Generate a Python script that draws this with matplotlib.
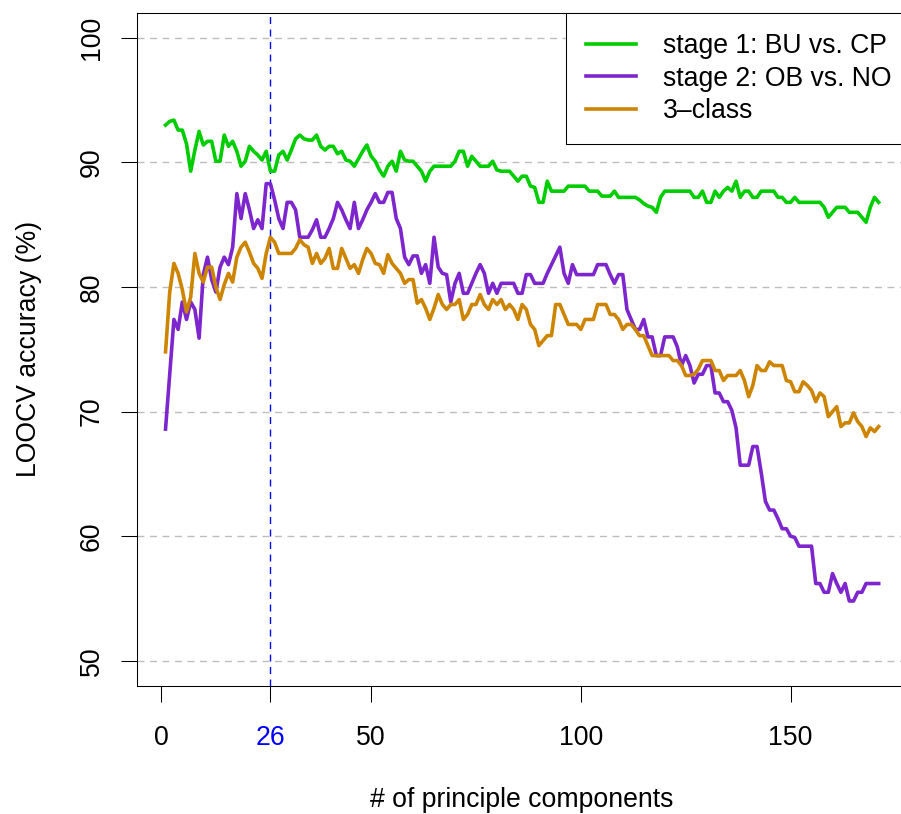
import matplotlib
matplotlib.use("Agg")
import matplotlib.pyplot as plt
import numpy as np

plt.rcParams['font.family'] = ['Liberation Sans', 'DejaVu Sans']

# LOOCV accuracy (%) for 1..171 principal components
stage1 = [
    93.0, 93.3, 93.4, 92.6, 92.6, 91.5, 89.3, 91.0, 92.5, 91.4,
    91.7, 91.7, 90.1, 90.1, 92.2, 91.3, 91.7, 90.9, 89.7, 90.1,
    91.3, 90.9, 90.6, 90.2, 90.9, 89.3, 89.3, 90.6, 90.9, 90.2,
    91.0, 91.9, 92.2, 91.9, 91.8, 91.8, 92.2, 91.3, 91.0, 91.3,
    91.3, 90.7, 90.9, 90.2, 90.1, 89.7, 90.3, 90.9, 91.4, 90.5,
    90.1, 89.4, 88.9, 89.7, 90.1, 89.3, 90.9, 90.2, 90.1, 90.1,
    89.7, 89.3, 88.5, 89.3, 89.7, 89.7, 89.7, 89.7, 89.7, 90.1,
    90.9, 90.9, 89.7, 90.5, 90.1, 89.7, 89.7, 89.7, 90.1, 89.4,
    89.3, 89.3, 89.3, 88.9, 88.5, 88.9, 88.9, 88.1, 88.0, 86.8,
    86.8, 88.5, 87.7, 87.7, 87.7, 87.7, 88.1, 88.1, 88.1, 88.1,
    88.1, 87.7, 87.7, 87.7, 87.3, 87.3, 87.3, 87.7, 87.2, 87.2,
    87.2, 87.2, 87.2, 87.0, 86.7, 86.5, 86.4, 86.0, 87.2, 87.7,
    87.7, 87.7, 87.7, 87.7, 87.7, 87.7, 87.2, 87.2, 87.7, 86.8,
    86.8, 87.7, 87.2, 87.7, 88.0, 87.7, 88.5, 87.2, 87.7, 87.7,
    87.2, 87.2, 87.7, 87.7, 87.7, 87.7, 87.2, 87.2, 86.8, 86.8,
    87.2, 86.8, 86.8, 86.8, 86.8, 86.8, 86.8, 86.4, 85.6, 86.0,
    86.4, 86.4, 86.4, 86.0, 86.0, 86.0, 85.6, 85.2, 86.4, 87.2, 86.8,
]
stage2 = [
    68.6, 73.0, 77.4, 76.6, 78.8, 77.4, 78.8, 78.2, 75.9, 81.0,
    82.4, 80.6, 79.6, 81.6, 82.4, 81.8, 83.2, 87.5, 85.5, 87.5,
    86.2, 84.7, 85.4, 84.7, 88.3, 88.3, 87.0, 85.5, 84.7, 86.8,
    86.8, 86.2, 84.0, 84.0, 84.0, 84.6, 85.4, 84.0, 84.0, 84.7,
    85.5, 86.8, 86.2, 85.4, 84.7, 86.8, 84.7, 85.4, 86.2, 86.8,
    87.5, 86.8, 86.8, 87.6, 87.6, 85.5, 84.7, 82.4, 81.8, 82.5,
    82.5, 81.1, 81.8, 80.3, 84.0, 81.6, 81.1, 81.0, 78.8, 80.3,
    81.1, 79.5, 79.5, 80.3, 81.1, 81.8, 81.1, 79.5, 80.3, 79.5,
    80.3, 80.3, 80.3, 80.3, 79.5, 79.5, 81.0, 81.0, 80.3, 80.3,
    80.3, 81.1, 81.8, 82.5, 83.2, 81.1, 80.3, 81.8, 81.0, 81.0,
    81.0, 81.0, 81.0, 81.8, 81.8, 81.8, 81.0, 80.3, 81.0, 81.0,
    78.2, 77.4, 76.6, 76.6, 77.4, 76.0, 76.0, 74.5, 74.5, 76.0,
    76.0, 76.0, 75.2, 73.7, 74.5, 73.7, 72.3, 73.0, 73.0, 73.7,
    73.7, 71.5, 71.5, 70.8, 70.8, 70.1, 68.7, 65.7, 65.7, 65.7,
    67.2, 67.2, 65.1, 62.8, 62.1, 62.1, 61.4, 60.6, 60.6, 60.0,
    59.9, 59.2, 59.2, 59.2, 59.2, 56.2, 56.2, 55.5, 55.5, 57.0,
    56.2, 55.5, 56.2, 54.8, 54.8, 55.5, 55.5, 56.2, 56.2, 56.2, 56.2,
]
three_class = [
    74.8, 79.6, 81.9, 81.1, 79.8, 78.0, 79.2, 82.7, 81.1, 80.4,
    81.6, 81.6, 80.0, 79.0, 80.2, 81.1, 80.4, 82.4, 83.2, 83.6,
    82.8, 81.9, 81.5, 80.7, 82.7, 84.0, 83.6, 82.7, 82.7, 82.7,
    82.7, 83.1, 83.8, 83.4, 83.2, 81.9, 82.7, 81.9, 82.3, 83.1,
    81.5, 81.5, 83.1, 82.3, 81.5, 81.8, 81.1, 82.2, 83.1, 82.7,
    81.9, 81.8, 81.1, 82.6, 81.9, 81.5, 81.1, 80.3, 80.6, 80.6,
    78.7, 79.0, 78.3, 77.4, 78.3, 79.4, 78.6, 78.2, 78.6, 78.6,
    79.0, 77.4, 77.8, 78.6, 78.6, 79.4, 78.6, 78.2, 79.0, 78.6,
    79.0, 78.2, 78.6, 78.2, 77.4, 78.6, 78.2, 77.0, 76.6, 75.3,
    75.7, 76.1, 76.1, 78.6, 78.6, 77.8, 77.0, 77.0, 77.0, 76.6,
    77.4, 77.4, 77.4, 78.6, 78.6, 78.6, 77.8, 77.8, 77.4, 76.6,
    77.0, 77.0, 76.6, 76.1, 76.1, 75.3, 74.5, 74.5, 74.5, 74.5,
    74.5, 74.1, 74.1, 73.7, 72.9, 72.9, 73.0, 73.4, 74.1, 74.1,
    74.1, 73.3, 73.3, 72.5, 72.9, 72.9, 72.9, 73.3, 72.5, 71.2,
    72.1, 73.7, 73.3, 73.3, 74.0, 73.7, 73.7, 73.7, 72.5, 72.4,
    71.6, 71.6, 72.4, 72.1, 71.7, 70.8, 71.5, 71.2, 69.6, 70.0,
    70.4, 68.8, 69.1, 69.1, 69.9, 69.2, 68.8, 68.0, 68.7, 68.4, 68.8,
]
labels = ['stage 1: BU vs. CP', 'stage 2: OB vs. NO', '3\u2013class']
colors = ['#00CD00', '#7D26CD', '#CD8500']
best_pc = 26
xticks = [0, best_pc, 50, 100, 150]
yticks = [50, 60, 70, 80, 90, 100]

n_pc = np.arange(1, len(stage1) + 1)
fs = 19.2

fig = plt.figure(figsize=(9.01, 8.14), dpi=100)
ax = fig.add_axes([137 / 901, 1 - 685.7 / 814, 770.2 / 901, 672.7 / 814])

for h in yticks:
    ax.axhline(h, color='#BEBEBE', lw=1, ls=(0, (5, 4)), zorder=1)
ax.axvline(best_pc, color='blue', lw=1, ls=(0, (5, 4)), zorder=1)

for y, c, lab in zip([stage1, stage2, three_class], colors, labels):
    ax.plot(n_pc, y, color=c, lw=2.6, label=lab, zorder=3)

ax.set_xlim(-5.8, 177.8)
ax.set_ylim(48, 102)
ax.set_xticks(xticks)
ax.set_xticklabels([str(t) for t in xticks])
ax.get_xticklabels()[1].set_color('blue')
ax.set_yticks(yticks)
ax.set_yticklabels([str(t) for t in yticks])
for t in ax.get_yticklabels():
    t.set_rotation(90)
    t.set_va('center')
    t.set_ha('right')

ax.tick_params(axis='both', direction='out', length=11.5, width=0.75,
               labelsize=fs, color='black')
ax.tick_params(axis='x', pad=17.0)
ax.tick_params(axis='y', pad=11.8)
for s in ax.spines.values():
    s.set_linewidth(0.75)
    s.set_color('black')

ax.set_xlabel('# of principle components', fontsize=fs)
ax.xaxis.set_label_coords(0.5, -0.150)
ax.set_ylabel('LOOCV accuracy (%)', fontsize=fs)
ax.yaxis.set_label_coords(-0.1233, 0.5)

leg = ax.legend(loc='upper left', bbox_to_anchor=(566 / 901, 1 - 13 / 814),
                bbox_transform=fig.transFigure, borderaxespad=0,
                fontsize=fs, frameon=True, fancybox=False, framealpha=1,
                edgecolor='black', borderpad=0.75, handlelength=1.87,
                handletextpad=1.0, labelspacing=0.25)
leg.get_frame().set_linewidth(0.75)

fig.savefig('out.png', dpi=100)
